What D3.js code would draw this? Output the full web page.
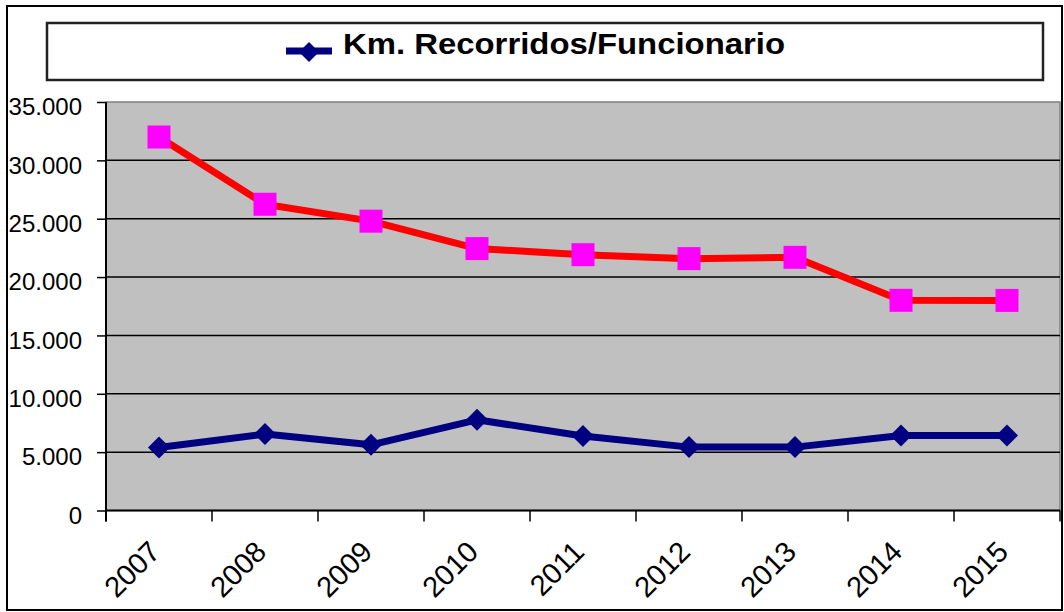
<!DOCTYPE html>
<html>
<head>
<meta charset="utf-8">
<script src="https://cdn.jsdelivr.net/npm/d3@7"></script>
<style>
  html, body { margin: 0; padding: 0; background: #fff; }
  svg { display: block; font-family: "Liberation Sans", Arial, sans-serif; }
</style>
</head>
<body>
<svg id="chart" width="1064" height="612"></svg>
<script>
const years = ["2007", "2008", "2009", "2010", "2011", "2012", "2013", "2014", "2015"];
const kmFuncionario = [5400, 6550, 5630, 7770, 6380, 5430, 5430, 6420, 6420];
const serieRoja = [32000, 26240, 24790, 22440, 21920, 21580, 21690, 18010, 18000];
const yTicks = [0, 5000, 10000, 15000, 20000, 25000, 30000, 35000];
const legendLabel = "Km. Recorridos/Funcionario";

const svg = d3.select("#chart");
const plot = { left: 106, right: 1060, top: 102, bottom: 510.5 };

const x = d3.scaleBand().domain(years).range([plot.left, plot.right]).padding(0);
const y = d3.scaleLinear().domain([0, 35000]).range([plot.bottom, plot.top]);
const fmt = d3.formatLocale({ decimal: ",", thousands: ".", grouping: [3], currency: ["", ""] }).format(",");

// outer border
svg.append("rect").attr("x", 7).attr("y", 6).attr("width", 1055).attr("height", 604)
  .attr("fill", "#fff").attr("stroke", "#000").attr("stroke-width", 2);

// legend box
svg.append("rect").attr("x", 47).attr("y", 23).attr("width", 996).attr("height", 57)
  .attr("fill", "#fff").attr("stroke", "#222").attr("stroke-width", 2.5);
svg.append("line").attr("x1", 286).attr("x2", 332).attr("y1", 51).attr("y2", 51)
  .attr("stroke", "#000080").attr("stroke-width", 7);
svg.append("path").attr("transform", "translate(309,52)")
  .attr("d", "M0,-10L10,0L0,10L-10,0Z").attr("fill", "#000080");
svg.append("text").attr("x", 343).attr("y", 54).attr("font-size", 30).attr("font-weight", "bold")
  .attr("textLength", 442).attr("lengthAdjust", "spacingAndGlyphs").attr("fill", "#000")
  .text(legendLabel);

// plot area
svg.append("rect").attr("x", plot.left).attr("y", plot.top)
  .attr("width", plot.right - plot.left).attr("height", plot.bottom - plot.top)
  .attr("fill", "#C0C0C0").attr("stroke", "#808080").attr("stroke-width", 1.5);

// gridlines
svg.append("g").selectAll("line").data(yTicks.filter(d => d > 0 && d < 35000)).join("line")
  .attr("x1", plot.left).attr("x2", plot.right)
  .attr("y1", d => y(d)).attr("y2", d => y(d))
  .attr("stroke", "#000").attr("stroke-width", 1.5);

// y axis
const yAxis = d3.axisLeft(y).tickValues(yTicks).tickFormat(fmt).tickSize(9).tickPadding(15);
const gy = svg.append("g").attr("transform", `translate(${plot.left},0)`).call(yAxis);
gy.select(".domain").attr("d", `M0,${plot.top}V${plot.bottom + 11}`).attr("stroke", "#000").attr("stroke-width", 2);
gy.selectAll(".tick line").attr("stroke", "#000").attr("stroke-width", 1.5);
gy.selectAll(".tick text").attr("font-size", 24).attr("fill", "#000")
  .attr("font-family", "'Liberation Sans', Arial, sans-serif").attr("dy", "0.53em");

// x axis
const xAxis = d3.axisBottom(x).tickSize(0).tickFormat(d => d);
const gx = svg.append("g").attr("transform", `translate(0,${plot.bottom})`).call(xAxis);
gx.select(".domain").attr("d", `M${plot.left},0H${plot.right}`).attr("stroke", "#000").attr("stroke-width", 2);
gx.selectAll(".tick text")
  .attr("font-size", 29).attr("fill", "#000")
  .attr("font-family", "'Liberation Sans', Arial, sans-serif")
  .attr("text-anchor", "end")
  .attr("y", 0).attr("dy", 0)
  .attr("transform", "translate(3,43) rotate(-45)");
// category boundary ticks
const bounds = years.map(d => x(d)).concat([x(years[years.length - 1]) + x.bandwidth()]);
svg.append("g").selectAll("line").data(bounds).join("line")
  .attr("x1", d => d).attr("x2", d => d)
  .attr("y1", plot.bottom).attr("y2", plot.bottom + 11)
  .attr("stroke", "#000").attr("stroke-width", 1.5);

const cx = d => x(d) + x.bandwidth() / 2;

// red series
const redData = years.map((d, i) => ({ year: d, v: serieRoja[i] }));
svg.append("path").datum(redData)
  .attr("d", d3.line().x(d => cx(d.year)).y(d => y(d.v)))
  .attr("fill", "none").attr("stroke", "#FF0000").attr("stroke-width", 7).attr("stroke-linejoin", "round");
svg.append("g").selectAll("rect").data(redData).join("rect")
  .attr("x", d => cx(d.year) - 11.5).attr("y", d => y(d.v) - 11.5)
  .attr("width", 23).attr("height", 23).attr("fill", "#FF00FF");

// blue series
const blueData = years.map((d, i) => ({ year: d, v: kmFuncionario[i] }));
svg.append("path").datum(blueData)
  .attr("d", d3.line().x(d => cx(d.year)).y(d => y(d.v)))
  .attr("fill", "none").attr("stroke", "#000080").attr("stroke-width", 7).attr("stroke-linejoin", "round");
svg.append("g").selectAll("path").data(blueData).join("path")
  .attr("transform", d => `translate(${cx(d.year)},${y(d.v)})`)
  .attr("d", "M0,-11L11,0L0,11L-11,0Z").attr("fill", "#000080");
</script>
</body>
</html>
